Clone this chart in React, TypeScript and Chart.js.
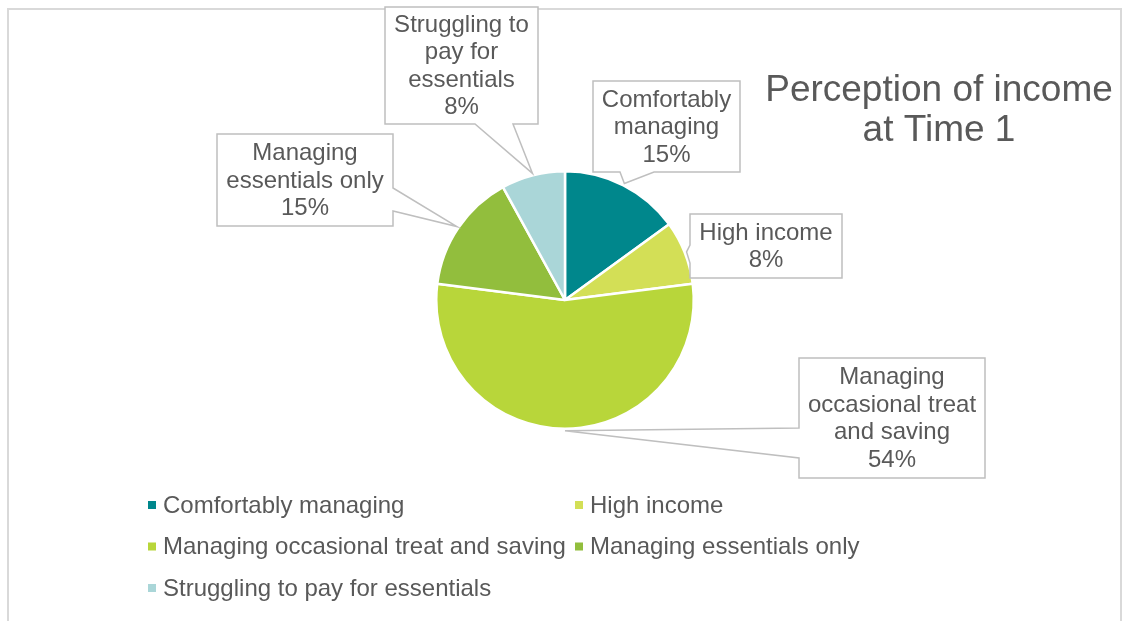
import React, { useEffect, useRef } from "react";
import { Chart, registerables } from "chart.js";

Chart.register(...registerables);

// ---- data ----
const categories = [
  "Comfortably managing",
  "High income",
  "Managing occasional treat and saving",
  "Managing essentials only",
  "Struggling to pay for essentials",
];
const values = [15, 8, 54, 15, 8];
const sliceColors = ["#00878C", "#D3DF56", "#B8D63A", "#92BE3D", "#AAD6D8"];
const calloutText = [
  ["Comfortably", "managing"],
  ["High income"],
  ["Managing", "occasional treat", "and saving"],
  ["Managing", "essentials only"],
  ["Struggling to", "pay for", "essentials"],
];
const titleLines = ["Perception of income", "at Time 1"];

// ---- layout (label boxes, not data) ----
type Callout = { x: number; y: number; w: number; h: number; side: "bottom" | "left" | "right"; a: number; b: number };
const calloutLayout: Callout[] = [
  { x: 593, y: 81, w: 147, h: 91, side: "bottom", a: 620, b: 654 },
  { x: 690, y: 214, w: 152, h: 64, side: "left", a: 245, b: 263 },
  { x: 799, y: 358, w: 186, h: 120, side: "left", a: 428, b: 458 },
  { x: 217, y: 134, w: 176, h: 92, side: "right", a: 188, b: 211 },
  { x: 385, y: 7, w: 153, h: 117, side: "bottom", a: 475, b: 513 },
];

const FONT = "'Liberation Sans', Arial, sans-serif";
const TEXT = "#595959";

const decorPlugin = {
  id: "decor",
  beforeDraw(chart: any) {
    const ctx = chart.ctx;
    ctx.save();
    ctx.fillStyle = "#ffffff";
    ctx.fillRect(0, 0, chart.width, chart.height);
    ctx.strokeStyle = "#d9d9d9";
    ctx.lineWidth = 2;
    ctx.strokeRect(8, 9, 1113, 700);
    // title
    ctx.fillStyle = TEXT;
    ctx.font = `37px ${FONT}`;
    ctx.textAlign = "center";
    ctx.textBaseline = "middle";
    titleLines.forEach((t, i) => ctx.fillText(t, 939, 91 + i * 40));
    // legend
    ctx.font = `24px ${FONT}`;
    ctx.textAlign = "left";
    const ds = chart.data.datasets[0];
    chart.data.labels.forEach((lab: string, i: number) => {
      const col = i % 2;
      const row = Math.floor(i / 2);
      const mx = col === 0 ? 148 : 575;
      const my = 505 + row * 41.5;
      ctx.fillStyle = ds.backgroundColor[i];
      ctx.fillRect(mx, my - 4, 8, 8);
      ctx.fillStyle = TEXT;
      ctx.fillText(lab, mx + 15, my + 1);
    });
    ctx.restore();
  },
  afterDatasetsDraw(chart: any) {
    const ctx = chart.ctx;
    const meta = chart.getDatasetMeta(0);
    const ds = chart.data.datasets[0];
    const total = ds.data.reduce((s: number, v: number) => s + v, 0);
    ctx.save();
    meta.data.forEach((arc: any, i: number) => {
      const L = calloutLayout[i];
      const mid = (arc.startAngle + arc.endAngle) / 2;
      const r = arc.outerRadius + 2;
      const tx = arc.x + Math.cos(mid) * r;
      const ty = arc.y + Math.sin(mid) * r;
      ctx.beginPath();
      const { x, y, w, h } = L;
      if (L.side === "bottom") {
        ctx.moveTo(x, y);
        ctx.lineTo(x + w, y);
        ctx.lineTo(x + w, y + h);
        ctx.lineTo(L.b, y + h);
        ctx.lineTo(tx, ty);
        ctx.lineTo(L.a, y + h);
        ctx.lineTo(x, y + h);
      } else if (L.side === "left") {
        ctx.moveTo(x, y);
        ctx.lineTo(x + w, y);
        ctx.lineTo(x + w, y + h);
        ctx.lineTo(x, y + h);
        ctx.lineTo(x, L.b);
        ctx.lineTo(tx, ty);
        ctx.lineTo(x, L.a);
      } else {
        ctx.moveTo(x, y);
        ctx.lineTo(x + w, y);
        ctx.lineTo(x + w, L.a);
        ctx.lineTo(tx, ty);
        ctx.lineTo(x + w, L.b);
        ctx.lineTo(x + w, y + h);
        ctx.lineTo(x, y + h);
      }
      ctx.closePath();
      ctx.fillStyle = "#ffffff";
      ctx.fill();
      ctx.strokeStyle = "#bfbfbf";
      ctx.lineWidth = 1.5;
      ctx.stroke();
      const pct = Math.round((ds.data[i] / total) * 100) + "%";
      const lines = [...calloutText[i], pct];
      const lh = 27.5;
      const cy = y + h / 2;
      ctx.fillStyle = TEXT;
      ctx.font = `24px ${FONT}`;
      ctx.textAlign = "center";
      ctx.textBaseline = "middle";
      lines.forEach((t, k) => {
        ctx.fillText(t, x + w / 2, cy + (k - (lines.length - 1) / 2) * lh + 1);
      });
    });
    ctx.restore();
  },
};

export default function App() {
  const ref = useRef<HTMLCanvasElement | null>(null);
  useEffect(() => {
    if (!ref.current) return;
    const chart = new Chart(ref.current, {
      type: "pie",
      data: {
        labels: categories,
        datasets: [
          {
            data: values,
            backgroundColor: sliceColors,
            borderColor: "#ffffff",
            borderWidth: 2.5,
          },
        ],
      },
      options: {
        responsive: false,
        animation: false,
        events: [],
        layout: { padding: { left: 435, right: 431, top: 170, bottom: 191 } },
        plugins: {
          legend: { display: false },
          title: { display: false },
          tooltip: { enabled: false },
        },
      },
      plugins: [decorPlugin],
    });
    return () => chart.destroy();
  }, []);
  return (
    <div style={{ position: "absolute", left: 0, top: 0, width: 1126, height: 621 }}>
      <canvas ref={ref} width={1126} height={621} style={{ display: "block" }} />
    </div>
  );
}
